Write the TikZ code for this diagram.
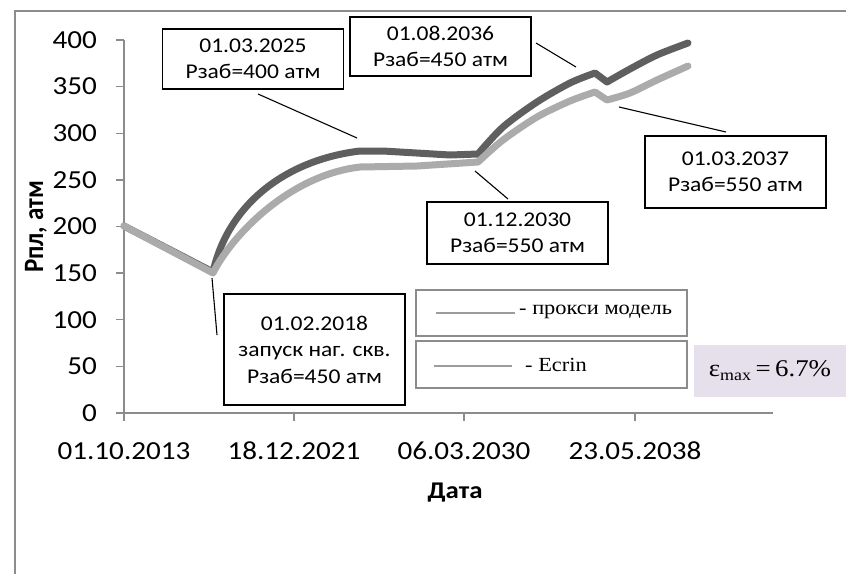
\documentclass[tikz,border=0pt]{standalone}
\usepackage{fontspec}
\usepackage{graphicx}
\setmainfont{Carlito}
\newfontfamily\tms{Liberation Serif}
\newcommand{\hstr}[1]{\scalebox{1.12}[1]{#1}}
\definecolor{darkser}{HTML}{5F5F5F}
\definecolor{lightser}{HTML}{ABABAB}
\definecolor{axisgray}{HTML}{8C8C8C}
\definecolor{legline}{HTML}{9C9C9C}
\definecolor{epsfill}{HTML}{E5E0EC}
\tikzset{
  callout/.style={draw=black, line width=1.2pt, fill=white, align=center,
    minimum width=181pt, inner sep=2pt, font=\fontsize{21}{26.5}\selectfont},
  leader/.style={line width=1.1pt, black},
  legbox/.style={draw=axisgray, line width=1.3pt, minimum width=271pt, inner sep=0pt},
  ticklab/.style={font=\fontsize{26}{30}\selectfont},
  series/.style={line width=7pt, line cap=round, line join=round},
  axisline/.style={draw=axisgray, line width=1.4pt},
}
\begin{document}
\begin{tikzpicture}[x=1pt, y=-1pt]
\useasboundingbox (0,0) rectangle (846,574);
% outer chart frame
\draw[axisgray, line width=1.5pt] (15,574) -- (15,11) -- (846,11);
% axes
\draw[axisline] (124,40) -- (124,413) -- (773,413);
\foreach \k/\lab in {0/0,1/50,2/100,3/150,4/200,5/250,6/300,7/350,8/400}{
  \pgfmathsetmacro{\yy}{413-46.625*\k}
  \draw[axisline] (116,\yy) -- (124,\yy);
  \node[ticklab, anchor=east, inner sep=0pt] (yl\k) at (97,\yy) {\hstr{\lab}};
}
\foreach \xx/\lab/\nm in {124/01.10.2013/xa,294/18.12.2021/xb,464/06.03.2030/xc,635/23.05.2038/xd}{
  \draw[axisline] (\xx,413) -- (\xx,421);
  \node[ticklab, inner sep=0pt] (\nm) at (\xx,451) {\hstr{\lab}};
}
\node[font=\bfseries\fontsize{25}{28}\selectfont, rotate=90] (ylab) at (36,227) {\scalebox{1}[1.12]{Рпл, атм}};
\node[font=\bfseries\fontsize{24}{28}\selectfont] (xlab) at (455,493) {\hstr{Дата}};
% series: proxy model (dark)
\draw[series, darkser] (124,226) -- (213,272)
  .. controls (228,205) and (285,160) .. (360,151)
  -- (383,151) -- (450,155) -- (478,154)
  -- plot[smooth, tension=0.5] coordinates {(478,154) (503,127) (537,102) (570,83) (595,73)}
  -- (607,82)
  -- plot[smooth, tension=0.5] coordinates {(607,82) (630,69) (657,55) (688,43)};
% series: Ecrin (light)
\draw[series, lightser] (124,226) -- (213,273)
  .. controls (232,235) and (290,175) .. (360,167)
  -- (417,166) -- (478,162)
  -- plot[smooth, tension=0.5] coordinates {(478,162) (503,140) (537,117) (570,101) (595,92)}
  -- (607,100)
  -- plot[smooth, tension=0.5] coordinates {(607,100) (630,93) (657,80) (688,66)};
% callouts
\node[callout, minimum height=60pt] (c1) at (253,59) {\hstr{01.03.2025}\\\hstr{Рзаб=400 атм}};
\node[callout, minimum height=59pt] (c2) at (440.5,46.5) {\hstr{01.08.2036}\\\hstr{Рзаб=450 атм}};
\node[callout, minimum height=72pt] (c3) at (735.5,172) {\hstr{01.03.2037}\\\hstr{Рзаб=550 атм}};
\node[callout, minimum height=62pt] (c4) at (517.5,233) {\hstr{01.12.2030}\\\hstr{Рзаб=550 атм}};
\node[callout, minimum height=111pt] (c5) at (314.5,349.5) {\hstr{01.02.2018}\\\hstr{запуск наг. скв.}\\\hstr{Рзаб=450 атм}};
\coordinate (p1a) at (258,94);  \coordinate (p1b) at (357,138);
\coordinate (p2a) at (536,43);  \coordinate (p2b) at (576,67);
\coordinate (p3a) at (619,107); \coordinate (p3b) at (726,132);
\coordinate (p4a) at (475,171); \coordinate (p4b) at (508,199);
\coordinate (p5a) at (212,278); \coordinate (p5b) at (217,335);
\draw[leader] (p1a) -- (p1b);
\draw[leader] (p2a) -- (p2b);
\draw[leader] (p3a) -- (p3b);
\draw[leader] (p4a) -- (p4b);
\draw[leader] (p5a) -- (p5b);
% legend
\node[legbox, minimum height=46pt] (leg1) at (551.5,313) {};
\node[legbox, minimum height=47pt] (leg2) at (551.5,364.5) {};
\draw[legline, line width=2pt] (436,313) -- (515,313);
\draw[legline, line width=2pt] (434,366) -- (512,366);
\node[font=\tms\fontsize{20}{24}\selectfont, anchor=west, inner sep=0pt] (lt1) at (519,312) {\hstr{- прокси модель}};
\node[font=\tms\fontsize{20}{24}\selectfont, anchor=west, inner sep=0pt] (lt2) at (525,365) {\hstr{- Ecrin}};
% epsilon box
\node[fill=epsfill, minimum width=152pt, minimum height=52pt, inner sep=0pt,
  font=\tms\fontsize{24}{28}\selectfont] (eps) at (770,371)
  {\hstr{ε\raisebox{-0.35ex}{\fontsize{16}{18}\selectfont max}\,=\,6.7\%}};
\end{tikzpicture}
\end{document}
